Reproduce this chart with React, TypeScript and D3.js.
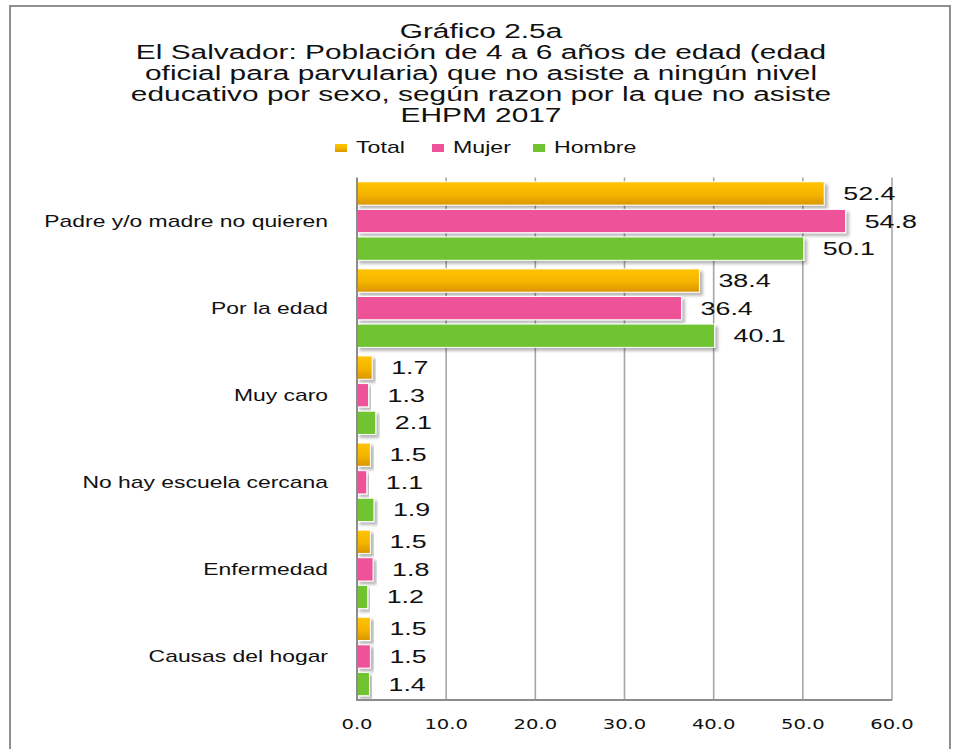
import * as d3 from "d3"

const categories = [
    "Padre y/o madre no quieren",
    "Por la edad",
    "Muy caro",
    "No hay escuela cercana",
    "Enfermedad",
    "Causas del hogar",
]
const seriesNames = ["Total", "Mujer", "Hombre"]
const totalValues = [52.4, 38.4, 1.7, 1.5, 1.5, 1.5]
const mujerValues = [54.8, 36.4, 1.3, 1.1, 1.8, 1.5]
const hombreValues = [50.1, 40.1, 2.1, 1.9, 1.2, 1.4]
const xTicks = [0, 10, 20, 30, 40, 50, 60]
const titleLines = [
    "Gráfico 2.5a",
    "El Salvador: Población de 4 a 6 años de edad (edad",
    "oficial para parvularia) que no asiste a ningún nivel",
    "educativo por sexo, según razon por la que no asiste",
    "EHPM 2017",
]

const W = 959
const H = 749
const SX = 1.45 // the source picture is stretched sideways, text too
const colors = ["url(#gradTotal)", "#EE539A", "#70C430"]
const legendX = [335, 432, 533]

function StretchText(props: {
    x: number
    y: number
    anchor?: string
    size: number
    family: string
    children: string
}) {
    return (
        <g transform={`translate(${props.x},${props.y}) scale(${SX},1)`}>
            <text
                x={0}
                y={0}
                textAnchor={props.anchor || "start"}
                fontSize={props.size}
                fontFamily={props.family}
                fill="#111"
            >
                {props.children}
            </text>
        </g>
    )
}

export default function App() {
    const x = d3.scaleLinear().domain([0, 60]).range([357, 892])
    const y = d3.scaleBand<string>().domain(categories).range([177.5, 700]).padding(0)
    const ySub = d3
        .scaleBand<string>()
        .domain(seriesNames)
        .range([0, y.bandwidth()])
        .padding(0.155)
    const fmt = d3.format(".1f")
    const rows = categories.map((c, i) => ({
        cat: c,
        vals: [totalValues[i], mujerValues[i], hombreValues[i]],
    }))
    const sans = "'Liberation Sans', Arial, sans-serif"
    const dejavu = "'DejaVu Sans', Verdana, sans-serif"

    return (
        <svg
            width={W}
            height={H}
            style={{ position: "absolute", left: 0, top: 0, background: "#fff" }}
        >
            <defs>
                <linearGradient id="gradTotal" x1="0" y1="0" x2="0" y2="1">
                    <stop offset="0" stopColor="#FFC400" />
                    <stop offset="0.55" stopColor="#F5B400" />
                    <stop offset="1" stopColor="#D99500" />
                </linearGradient>
                <filter id="shadow" x="-10%" y="-30%" width="130%" height="180%">
                    <feDropShadow dx="3" dy="3" stdDeviation="1.8" floodColor="#000" floodOpacity="0.28" />
                </filter>
            </defs>

            <rect x={0} y={0} width={W} height={H} fill="#fff" />
            <path d={`M10,${H} V6 H950 V${H}`} fill="none" stroke="#8f8f8f" strokeWidth={2} />

            {titleLines.map((t, i) => (
                <StretchText key={t} x={481} y={37.5 + i * 21} anchor="middle" size={20.6} family={sans}>
                    {t}
                </StretchText>
            ))}

            {seriesNames.map((s, i) => (
                <g key={s}>
                    <rect x={legendX[i]} y={144} width={12} height={8} fill={colors[i]} />
                    <StretchText x={legendX[i] + 21} y={153} size={16} family={sans}>
                        {s}
                    </StretchText>
                </g>
            ))}

            {xTicks.map((t) => (
                <line
                    key={t}
                    x1={x(t)}
                    x2={x(t)}
                    y1={177.5}
                    y2={700}
                    stroke="#a6a6a6"
                    strokeWidth={t === 0 ? 0 : 1.6}
                />
            ))}

            {rows.map((r) => (
                <g key={r.cat} transform={`translate(0,${y(r.cat)})`}>
                    {r.vals.map((v, j) => (
                        <rect
                            key={j}
                            x={x(0)}
                            y={ySub(seriesNames[j])}
                            width={x(v) - x(0)}
                            height={ySub.bandwidth()}
                            fill={colors[j]}
                            stroke="#fff"
                            strokeWidth={1}
                            filter="url(#shadow)"
                        />
                    ))}
                </g>
            ))}

            {rows.map((r) =>
                r.vals.map((v, j) => (
                    <StretchText
                        key={r.cat + j}
                        x={x(v) + 19}
                        y={(y(r.cat) || 0) + (ySub(seriesNames[j]) || 0) + ySub.bandwidth() / 2 + 6.5}
                        size={18.5}
                        family={sans}
                    >
                        {fmt(v)}
                    </StretchText>
                ))
            )}

            {categories.map((c) => (
                <StretchText
                    key={c}
                    x={328}
                    y={(y(c) || 0) + y.bandwidth() / 2 + 5.5}
                    anchor="end"
                    size={15.8}
                    family={sans}
                >
                    {c}
                </StretchText>
            ))}

            <line x1={x(0)} x2={x(0)} y1={177.5} y2={701} stroke="#8c8c8c" strokeWidth={2} />
            <line x1={x(0) - 1} x2={x(60)} y1={700} y2={700} stroke="#8c8c8c" strokeWidth={2} />

            {xTicks.map((t) => (
                <StretchText key={t} x={x(t)} y={729} anchor="middle" size={13.5} family={dejavu}>
                    {fmt(t)}
                </StretchText>
            ))}
        </svg>
    )
}
